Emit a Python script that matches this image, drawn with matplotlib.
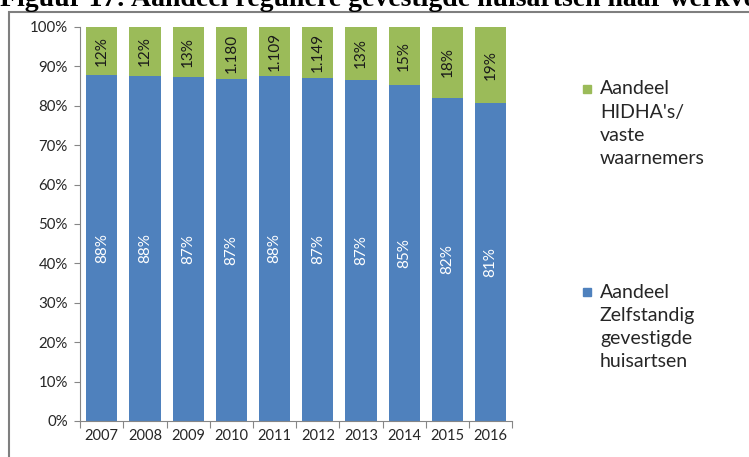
import numpy as np
import matplotlib.pyplot as plt
from matplotlib.patches import Rectangle
from matplotlib.ticker import FixedLocator, PercentFormatter

plt.rcParams['font.family'] = ['Lato', 'DejaVu Sans']

# data
years = ["2007", "2008", "2009", "2010", "2011", "2012", "2013", "2014", "2015", "2016"]
zelfstandig = [87.8, 87.6, 87.3, 86.8, 87.6, 87.1, 86.5, 85.3, 82.0, 80.7]
hidha = [100 - v for v in zelfstandig]
zelf_labels = ["88%", "88%", "87%", "87%", "88%", "87%", "87%", "85%", "82%", "81%"]
hidha_labels = ["12%", "12%", "13%", "1.180", "1.109", "1.149", "13%", "15%", "18%", "19%"]

blue = "#4f81bd"
green = "#9bbb59"

fig = plt.figure(figsize=(7.49, 4.57), dpi=100)
ax = fig.add_axes([0.107, 0.079, 0.577, 0.862])

x = np.arange(len(years))
ax.bar(x, zelfstandig, width=0.72, color=blue)
ax.bar(x, hidha, bottom=zelfstandig, width=0.72, color=green)

# labels inside the bars
for i in range(len(years)):
    ax.text(x[i], zelfstandig[i] / 2, zelf_labels[i], rotation=90, ha="center",
            va="center", color="white", fontsize=11)
    ax.text(x[i], zelfstandig[i] + hidha[i] / 2, hidha_labels[i], rotation=90,
            ha="center", va="center", color="#1a1a1a", fontsize=11)

ax.set_xlim(-0.5, len(years) - 0.5)
ax.set_ylim(0, 100)
ax.yaxis.set_major_locator(FixedLocator(np.arange(0, 101, 10)))
ax.yaxis.set_major_formatter(PercentFormatter(decimals=0))

# year labels at centers, tick marks at the boundaries
ax.xaxis.set_major_locator(FixedLocator(np.arange(-0.5, len(years), 1)))
ax.xaxis.set_minor_locator(FixedLocator(x))
ax.set_xticklabels([])
ax.set_xticklabels(years, minor=True)
ax.tick_params(axis="x", which="major", length=5, color="#868686")
ax.tick_params(axis="x", which="minor", length=0, labelsize=10.5, colors="#262626", pad=6)
ax.tick_params(axis="y", length=4, color="#868686", labelsize=10.8, labelcolor="#262626", pad=5)

for side in ["top", "right"]:
    ax.spines[side].set_visible(False)
for side in ["left", "bottom"]:
    ax.spines[side].set_color("#868686")

# legend drawn by hand
W, H = 749, 457
entries = [(green, 89, ["Aandeel", "HIDHA's/", "vaste", "waarnemers"]),
           (blue, 292, ["Aandeel", "Zelfstandig", "gevestigde", "huisartsen"])]
for col, ytop, lines in entries:
    fig.patches.append(Rectangle((583 / W, 1 - (ytop + 4) / H), 8 / W, 8 / H,
                                 transform=fig.transFigure, color=col))
    for k, line in enumerate(lines):
        fig.text(600 / W, 1 - (ytop + 23.3 * k) / H, line, ha="left", va="center",
                 fontsize=14, color="#262626")

# outer frame of the chart area
fig.patches.append(Rectangle((9 / W, -0.1), 1.0, 1 - 12.5 / H + 0.1,
                             transform=fig.transFigure, fill=False,
                             edgecolor="#7f7f7f", linewidth=1.5))

# title, cut off at top as in the source
fig.text(0.0, 1 - 6 / H, "Figuur 17: Aandeel reguliere gevestigde huisartsen naar werkvorm",
         ha="left", va="baseline", fontsize=20, fontweight="bold",
         family="Liberation Serif")

fig.savefig("out.png", dpi=100)
